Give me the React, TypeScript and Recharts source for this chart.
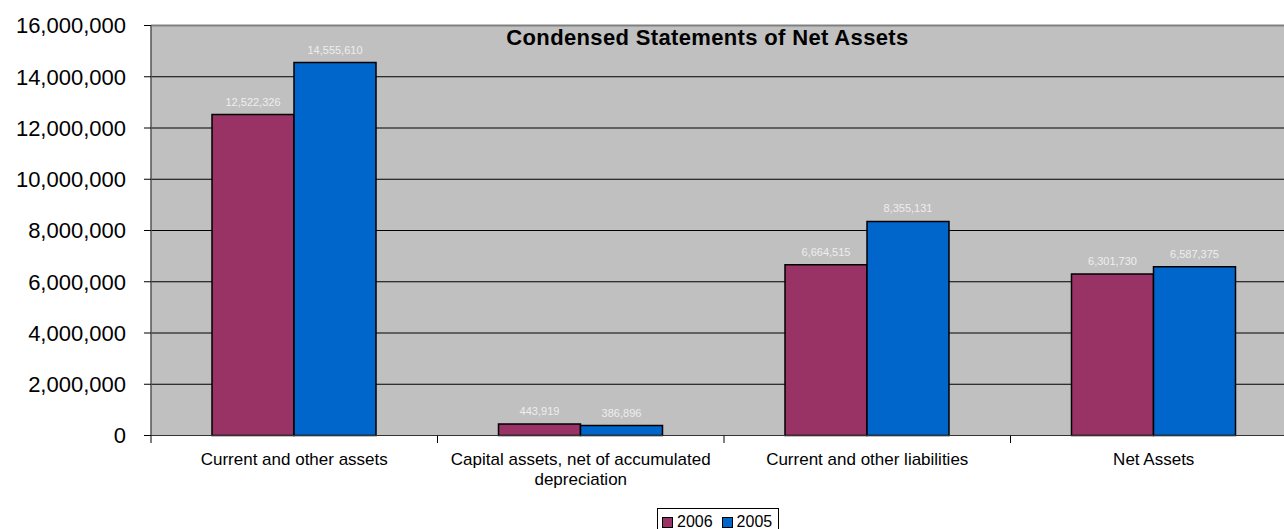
import React from 'react'
import {
  BarChart,
  Bar,
  XAxis,
  YAxis,
  CartesianGrid,
  LabelList,
  Legend,
  ReferenceLine,
  Customized,
  Text,
} from 'recharts'

const categories = [
  'Current and other assets',
  'Capital assets, net of accumulated depreciation',
  'Current and other liabilities',
  'Net Assets',
]
const values2006 = [12522326, 443919, 6664515, 6301730]
const values2005 = [14555610, 386896, 8355131, 6587375]
const yTicks = [0, 2000000, 4000000, 6000000, 8000000, 10000000, 12000000, 14000000, 16000000]

const data = categories.map((name, i) => ({
  name,
  y2006: values2006[i],
  y2005: values2005[i],
}))

const FONT = '"Liberation Sans", Arial, sans-serif'
const fmt = (v: number) => Number(v).toLocaleString('en-US')

function CategoryTick(props: any) {
  const { x, y, payload } = props
  const half = payload.offset || 0
  return (
    <g>
      <line x1={x - half} y1={y - 17.5} x2={x - half} y2={y - 10} stroke="#000" strokeWidth={1} />
      <Text
        x={x}
        y={y}
        width={280}
        textAnchor="middle"
        verticalAnchor="start"
        lineHeight={20}
        fontSize={17}
        fontFamily={FONT}
        fill="#000"
      >
        {payload.value}
      </Text>
    </g>
  )
}

function LegendBox() {
  const items = [
    { label: '2006', color: '#993366' },
    { label: '2005', color: '#0066CC' },
  ]
  return (
    <div
      style={{
        border: '1px solid #000',
        background: '#fff',
        display: 'flex',
        alignItems: 'center',
        padding: '4px 6px 4px 4px',
        fontFamily: FONT,
        fontSize: 16,
        lineHeight: '18px',
        color: '#000',
      }}
    >
      {items.map((it, i) => (
        <span key={it.label} style={{ display: 'flex', alignItems: 'center', marginLeft: i ? 9 : 0 }}>
          <span
            style={{
              width: 9,
              height: 9,
              background: it.color,
              border: '1px solid #000',
              marginRight: 4,
              display: 'inline-block',
            }}
          />
          {it.label}
        </span>
      ))}
    </div>
  )
}

export default function App() {
  return (
    <div
      style={{
        position: 'absolute',
        left: 0,
        top: 0,
        width: 1284,
        height: 529,
        overflow: 'hidden',
        background: '#fff',
      }}
    >
      <BarChart
        width={1300}
        height={529}
        data={data}
        margin={{ top: 25.5, right: 3, left: 0, bottom: 0 }}
        barCategoryGap={61}
        barGap={0}
      >
        <CartesianGrid vertical={false} stroke="#000" strokeWidth={1} fill="#C0C0C0" fillOpacity={1} />
        <XAxis
          dataKey="name"
          height={93.5}
          axisLine={{ stroke: '#333', strokeWidth: 1 }}
          tickLine={false}
          tickSize={0}
          tickMargin={17.5}
          interval={0}
          tick={<CategoryTick />}
        />
        <YAxis
          width={151}
          domain={[0, 16000000]}
          ticks={yTicks}
          tickFormatter={fmt}
          axisLine={{ stroke: '#555', strokeWidth: 1.5 }}
          tickLine={{ stroke: '#000' }}
          tickSize={7}
          tickMargin={18}
          tick={{ fontSize: 22, fontFamily: FONT, fill: '#000' }}
          interval={0}
        />
        <ReferenceLine y={16000000} stroke="#808080" strokeWidth={2} />
        <Legend
          layout="horizontal"
          verticalAlign="middle"
          align="center"
          wrapperStyle={{ top: 508, left: 657, width: 'auto' }}
          content={() => <LegendBox />}
        />
        <Bar dataKey="y2006" name="2006" fill="#993366" stroke="#000" strokeWidth={1.5} isAnimationActive={false}>
          <LabelList
            dataKey="y2006"
            position="top"
            offset={9}
            formatter={fmt}
            fill="#EEEEEE"
            fontSize={11}
            fontFamily={FONT}
          />
        </Bar>
        <Bar dataKey="y2005" name="2005" fill="#0066CC" stroke="#000" strokeWidth={1.5} isAnimationActive={false}>
          <LabelList
            dataKey="y2005"
            position="top"
            offset={9}
            formatter={fmt}
            fill="#EEEEEE"
            fontSize={11}
            fontFamily={FONT}
          />
        </Bar>
        <Customized
          component={() => (
            <text
              x={707.5}
              y={45}
              textAnchor="middle"
              fontFamily={FONT}
              fontSize={22}
              fontWeight="bold"
              letterSpacing={0.35}
              fill="#000"
            >
              Condensed Statements of Net Assets
            </text>
          )}
        />
      </BarChart>
    </div>
  )
}
